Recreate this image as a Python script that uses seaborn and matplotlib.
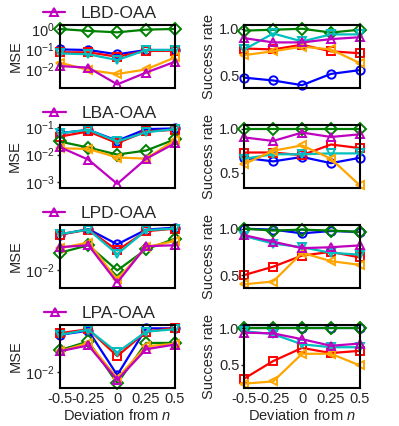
import numpy as np
import pandas as pd
import matplotlib
matplotlib.use('Agg')
import matplotlib.pyplot as plt
import seaborn as sns
from matplotlib.ticker import NullLocator, LogLocator

sns.set_style("ticks")
plt.rcParams['font.family'] = ['Liberation Sans', 'DejaVu Sans']
plt.rcParams['mathtext.fontset'] = 'custom'
plt.rcParams['mathtext.rm'] = 'Liberation Sans'
plt.rcParams['mathtext.it'] = 'Liberation Sans:italic'

deviation = [-0.5, -0.25, 0, 0.25, 0.5]
dev_labels = ["-0.5", "-0.25", "0", "0.25", "0.5"]
methods = ["LBD-OAA", "LBA-OAA", "LPD-OAA", "LPA-OAA"]

# MSE per row (log axis), series: blue, red, green, cyan, orange, magenta
mse_blue = [[0.095, 0.089, 0.054, 0.089, 0.089],
            [0.060, 0.080, 0.032, 0.085, 0.090],
            [0.041, 0.051, 0.028, 0.050, 0.054],
            [0.044, 0.052, 0.0090, 0.057, 0.057]]
mse_red = [[0.068, 0.068, 0.041, 0.080, 0.080],
           [0.045, 0.070, 0.026, 0.070, 0.080],
           [0.041, 0.050, 0.022, 0.047, 0.052],
           [0.047, 0.055, 0.019, 0.050, 0.058]]
mse_green = [[1.0, 0.80, 0.68, 0.93, 1.0],
             [0.030, 0.018, 0.010, 0.014, 0.036],
             [0.020, 0.027, 0.010, 0.023, 0.035],
             [0.024, 0.034, 0.0065, 0.032, 0.032]]
mse_cyan = [[0.060, 0.054, 0.028, 0.089, 0.089],
            [0.060, 0.080, 0.030, 0.065, 0.085],
            [0.042, 0.050, 0.019, 0.049, 0.052],
            [0.044, 0.054, 0.022, 0.050, 0.055]]
mse_orange = [[0.021, 0.0089, 0.0056, 0.0095, 0.038],
              [0.017, 0.016, 0.0078, 0.0071, 0.034],
              [0.024, 0.030, 0.0070, 0.025, 0.032],
              [0.023, 0.032, 0.0080, 0.028, 0.031]]
mse_magenta = [[0.014, 0.0117, 0.0017, 0.0066, 0.023],
               [0.019, 0.0065, 0.00085, 0.0070, 0.026],
               [0.025, 0.027, 0.0062, 0.026, 0.027],
               [0.023, 0.029, 0.0074, 0.025, 0.030]]

# success rate per row
sr_blue = [[0.48, 0.45, 0.40, 0.52, 0.56],
           [0.67, 0.63, 0.68, 0.61, 0.67],
           [1.0, 0.99, 0.95, 0.975, 0.965],
           [1.0, 1.0, 1.0, 1.0, 1.0]]
sr_red = [[0.79, 0.78, 0.83, 0.76, 0.74],
          [0.73, 0.73, 0.70, 0.82, 0.78],
          [0.50, 0.59, 0.71, 0.75, 0.69],
          [0.31, 0.55, 0.73, 0.66, 0.69]]
sr_green = [[0.98, 0.99, 1.0, 0.96, 0.99],
            [1.0, 1.0, 1.0, 1.0, 1.0],
            [1.0, 0.98, 0.99, 0.98, 0.965],
            [1.0, 1.0, 1.0, 1.0, 1.0]]
sr_cyan = [[0.78, 0.95, 0.865, 0.94, 0.94],
           [0.66, 0.71, 0.71, 0.72, 0.72],
           [0.92, 0.84, 0.80, 0.74, 0.72],
           [0.96, 0.92, 0.78, 0.74, 0.74]]
sr_orange = [[0.72, 0.76, 0.81, 0.78, 0.635],
             [0.60, 0.75, 0.81, 0.66, 0.36],
             [0.40, 0.43, 0.74, 0.65, 0.61],
             [0.24, 0.27, 0.65, 0.65, 0.49]]
sr_magenta = [[0.90, 0.855, 0.855, 0.89, 0.91],
              [0.90, 0.86, 0.955, 0.905, 0.935],
              [0.93, 0.86, 0.79, 0.80, 0.82],
              [0.94, 0.93, 0.85, 0.76, 0.79]]

mse_ylims = [(0.00112, 1.58), (0.0006, 0.12), (0.005, 0.06), (0.0054, 0.065)]
sr_ylims = [(0.37, 1.04), (0.33, 1.04), (0.36, 1.04), (0.18, 1.045)]

styles = [("#0000ff", "o"), ("#ff0000", "s"), ("#008000", "D"),
          ("#00bfbf", "v"), ("#ffa500", "<"), ("#bf00bf", "^")]


def draw(ax, series, label=None):
    for i, ((color, marker), vals) in enumerate(zip(styles, series)):
        lab = label if i == len(series) - 1 else None
        sns.lineplot(x=deviation, y=vals, ax=ax, color=color, marker=marker,
                     markersize=6, mfc="none", mec=color, mew=1.4,
                     linewidth=1.6, legend=False, label=lab, clip_on=False)


fig = plt.figure(figsize=(3.99, 4.26), dpi=100)
W = 115.5 / 399
H = 63 / 426
bottoms = [88, 188, 288, 388]

for r in range(4):
    b = 1 - bottoms[r] / 426
    axl = fig.add_axes([59.5 / 399, b, W, H])
    axr = fig.add_axes([244.3 / 399, b, W, H])

    draw(axl, [mse_blue[r], mse_red[r], mse_green[r], mse_cyan[r],
               mse_orange[r], mse_magenta[r]], label=methods[r])
    axl.set_yscale("log")
    axl.set_ylim(*mse_ylims[r])
    axl.yaxis.set_major_locator(LogLocator(base=10))
    axl.yaxis.set_minor_locator(NullLocator())
    axl.set_ylabel("MSE", fontsize=10.5, labelpad=2)
    axl.legend(loc="lower center", bbox_to_anchor=(0.35, 0.92),
               frameon=False, fontsize=12.5, handlelength=1.3,
               handletextpad=0.9, borderaxespad=0.1)

    draw(axr, [sr_blue[r], sr_red[r], sr_green[r], sr_cyan[r],
               sr_orange[r], sr_magenta[r]])
    axr.set_ylim(*sr_ylims[r])
    axr.set_yticks([0.5, 1.0])
    axr.set_yticklabels(["0.5", "1.0"])
    axr.set_ylabel("Success rate", fontsize=10.5, labelpad=2)

    for ax in (axl, axr):
        ax.set_xlim(-0.5, 0.5)
        ax.set_xticks(deviation)
        ax.tick_params(labelsize=10.5, width=1, length=2, pad=1.5)
        ax.tick_params(axis="x", length=0, pad=3)
        for sp in ax.spines.values():
            sp.set_linewidth(1.5)
            sp.set_color("black")
        if r < 3:
            ax.set_xticklabels([])
        else:
            ax.set_xticklabels(dev_labels)
            ax.set_xlabel("Deviation from $n$", fontsize=10.5, labelpad=1)

fig.savefig("out.png", dpi=100)
